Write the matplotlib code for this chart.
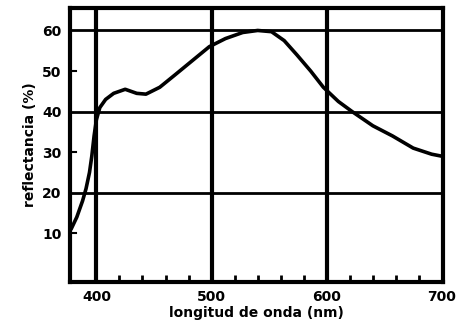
import matplotlib.pyplot as plt
import numpy as np

# longitud de onda (nm) y reflectancia (%)
wl = [378, 383, 388, 391, 394, 396, 398, 400, 403, 408, 415, 425, 435, 443,
      455, 468, 483, 498, 512, 527, 540, 552, 563, 574, 586, 597, 610, 622,
      640, 657, 675, 691, 700]
refl = [11, 14, 18, 21, 25, 29, 34, 38, 41, 43, 44.5, 45.5, 44.5, 44.3,
        46, 49, 52.5, 56, 58, 59.5, 60, 59.7, 57.5, 54, 50, 46, 42.5, 40,
        36.5, 34, 31, 29.5, 29]

xticks = [400, 500, 600, 700]
yticks = [10, 20, 30, 40, 50, 60]

plt.rcParams['font.family'] = 'DejaVu Sans'
plt.rcParams['font.weight'] = 'heavy'

fig = plt.figure(figsize=(4.66, 3.26), dpi=100)
ax = fig.add_axes([0.150, 0.135, 0.801, 0.840])

ax.plot(wl, refl, color='black', lw=2.6, solid_capstyle='round',
        solid_joinstyle='round')

# rejilla gruesa
for x in [400, 500, 600]:
    ax.axvline(x, color='black', lw=3)
for y in [20, 40, 60]:
    ax.axhline(y, color='black', lw=2)

ax.set_xlim(377, 701)
ax.set_ylim(-2, 65.5)
ax.set_xticks(xticks)
ax.set_xticklabels([str(t) for t in xticks], fontsize=10, fontweight='heavy')
ax.set_yticks(yticks)
ax.set_yticklabels([str(t) for t in yticks], fontsize=10, fontweight='heavy')
ax.set_xticks(np.arange(420, 700, 20), minor=True)
ax.tick_params(axis='both', which='major', length=0, pad=6)
ax.tick_params(axis='x', which='minor', direction='in', length=5, width=2)
for y in [10, 30, 50]:
    ax.plot([377, 382], [y, y], color='black', lw=1.5, clip_on=False)

for s in ax.spines.values():
    s.set_linewidth(3)

ax.set_xlabel('longitud de onda (nm)', fontsize=10, fontweight='heavy', labelpad=1)
ax.set_ylabel('reflectancia (%)', fontsize=10, fontweight='heavy', labelpad=4)

fig.savefig('out.png', dpi=100, facecolor='white')
